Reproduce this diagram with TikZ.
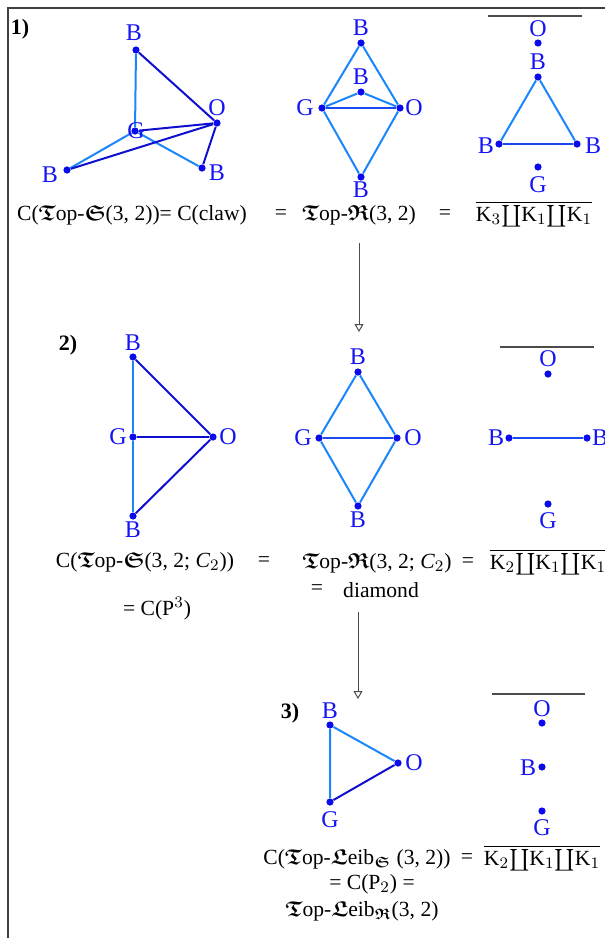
\documentclass[tikz,border=0pt]{standalone}
\usepackage{amsmath,amssymb}
\usepackage{fontspec}
\setmainfont{Liberation Serif}
\usepackage{xcolor}
\usetikzlibrary{arrows.meta}
\definecolor{lblue}{RGB}{25,135,250}
\definecolor{mblue}{RGB}{25,75,240}
\definecolor{dblue}{RGB}{15,15,210}
\definecolor{vblue}{RGB}{10,10,235}
\definecolor{tblue}{RGB}{20,20,245}
\newcommand{\frT}{\ensuremath{\boldsymbol{\mathfrak{T}}}}
\newcommand{\frS}{\ensuremath{\boldsymbol{\mathfrak{S}}}}
\newcommand{\frR}{\ensuremath{\boldsymbol{\mathfrak{R}}}}
\newcommand{\frL}{\ensuremath{\boldsymbol{\mathfrak{L}}}}
\newcommand{\kk}[1]{$\overline{\text{K}_{#1}\mathord{\coprod}\text{K}_1\mathord{\coprod}\text{K}_1}$}
\tikzset{
  vx/.style  ={circle, fill=vblue, inner sep=0pt, minimum size=3.6pt},
  vl/.style  ={font=\fontsize{12}{12}\selectfont, text=tblue, inner sep=0pt},
  le/.style  ={draw=lblue, line width=1pt},
  me/.style  ={draw=mblue, line width=1pt},
  de/.style  ={draw=dblue, line width=1pt},
  captxt/.style ={font=\fontsize{10.8}{12}\selectfont, inner sep=0pt},
  num/.style ={font=\fontsize{11}{12}\selectfont\bfseries, inner sep=0pt},
  ar/.style  ={-{Triangle[open,length=4pt,width=4.5pt]}, draw=black!70, line width=0.5pt},
  bar/.style ={draw=black!70, line width=0.6pt}
}
\begin{document}
\begin{tikzpicture}[x=0.5pt, y=-0.5pt]
\useasboundingbox (0,0) rectangle (605,938);
\draw[bar, draw=black!75, line width=0.7pt] (8,938) -- (8,8) -- (605,8);

\node[num] (n1) at (20,29) {1)};
\node[vx] (a1) at (136,50) {};
\node[vx] (a2) at (217,123) {};
\node[vx] (a3) at (135,131) {};
\node[vx] (a4) at (67,170) {};
\node[vx] (a5) at (202,168) {};
\draw[le] (a1) -- (a3);
\draw[le] (a3) -- (a4);
\draw[le] (a3) -- (a5);
\draw[de] (a1) -- (a2);
\draw[de] (a3) -- (a2);
\draw[de] (a4) -- (a2);
\draw[de] (a5) -- (a2);
\node[vl] (la1) at (134,33) {B};
\node[vl] (la2) at (217,108) {O};
\node[vl] (la3) at (136,131) {G};
\node[vl] (la4) at (50,175) {B};
\node[vl] (la5) at (217,173) {B};

\node[vx] (b1) at (361,43) {};
\node[vx] (b2) at (361,92) {};
\node[vx] (b3) at (322,108) {};
\node[vx] (b4) at (400,108) {};
\node[vx] (b5) at (361,177) {};
\draw[le] (b1) -- (b3);
\draw[le] (b1) -- (b4);
\draw[le] (b3) -- (b2) -- (b4);
\draw[le] (b3) -- (b5) -- (b4);
\draw[me] (b3) -- (b4);
\node[vl] (lb1) at (361,28) {B};
\node[vl] (lb2) at (361,77) {B};
\node[vl] (lb3) at (305,108) {G};
\node[vl] (lb4) at (414,108) {O};
\node[vl] (lb5) at (361,190) {B};

\coordinate (t1a) at (488,16);
\coordinate (t1b) at (582,16);
\draw[bar] (t1a) -- (t1b);
\node[vx] (c1) at (538,43) {};
\node[vx] (c2) at (538,77) {};
\node[vx] (c3) at (499,144) {};
\node[vx] (c4) at (577,144) {};
\node[vx] (c5) at (538,167) {};
\draw[le] (c3) -- (c2) -- (c4);
\draw[me] (c3) -- (c4);
\node[vl] (lc1) at (538,29) {O};
\node[vl] (lc2) at (538,62) {B};
\node[vl] (lc3) at (486,146) {B};
\node[vl] (lc4) at (593,146) {B};
\node[vl] (lc5) at (538,185) {G};

\node[captxt] (s1) at (132,215) {C(\frT op-\frS(3, 2))= C(claw)};
\node[captxt] (e1) at (281,215) {=};
\node[captxt] (r1) at (359,215) {\frT op-\frR(3, 2)};
\node[captxt] (e2) at (445,215) {=};
\node[captxt] (k1) at (534,214) {\kk{3}};

\coordinate (ar1a) at (359,243);
\coordinate (ar1b) at (359,332);
\draw[ar] (ar1a) -- (ar1b);

\node[num] (n2) at (68,345) {2)};
\node[vx] (d1) at (133,357) {};
\node[vx] (d2) at (133,437) {};
\node[vx] (d3) at (213,437) {};
\node[vx] (d4) at (133,516) {};
\draw[le] (d1) -- (d2) -- (d4);
\draw[de] (d1) -- (d3);
\draw[de] (d2) -- (d3);
\draw[de] (d4) -- (d3);
\node[vl] (ld1) at (133,343) {B};
\node[vl] (ld2) at (118,437) {G};
\node[vl] (ld3) at (228,437) {O};
\node[vl] (ld4) at (133,530) {B};

\node[vx] (f1) at (358,372) {};
\node[vx] (f2) at (319,438) {};
\node[vx] (f3) at (397,438) {};
\node[vx] (f4) at (358,506) {};
\draw[le] (f2) -- (f1) -- (f3);
\draw[le] (f2) -- (f4) -- (f3);
\draw[me] (f2) -- (f3);
\node[vl] (lf1) at (358,357) {B};
\node[vl] (lf2) at (303,438) {G};
\node[vl] (lf3) at (413,438) {O};
\node[vl] (lf4) at (358,520) {B};

\coordinate (t2a) at (500,347);
\coordinate (t2b) at (594,347);
\draw[bar] (t2a) -- (t2b);
\node[vx] (g1) at (548,374) {};
\node[vx] (g2) at (509,438) {};
\node[vx] (g3) at (587,438) {};
\node[vx] (g4) at (548,504) {};
\draw[me] (g2) -- (g3);
\node[vl] (lg1) at (548,359) {O};
\node[vl] (lg2) at (496,438) {B};
\node[vl] (lg3) at (600,438) {B};
\node[vl] (lg4) at (548,521) {G};

\node[captxt] (s2) at (145,562) {C(\frT op-\frS(3, 2; \textit{C}$_2$))};
\node[captxt] (e3) at (264,562) {=};
\node[captxt] (s3) at (157,609) {= C(P$^3$)};
\node[captxt] (r2) at (377,563) {\frT op-\frR(3, 2; \textit{C}$_2$)};
\node[captxt] (e4) at (468,563) {=};
\node[captxt] (k2) at (548,562) {\kk{2}};
\node[captxt] (e5) at (317,590) {=};
\node[captxt] (dm) at (381,590) {diamond};

\coordinate (ar2a) at (358,612);
\coordinate (ar2b) at (358,699);
\draw[ar] (ar2a) -- (ar2b);

\node[num] (n3) at (290,713) {3)};
\node[vx] (h1) at (330,725) {};
\node[vx] (h2) at (398,763) {};
\node[vx] (h3) at (330,802) {};
\draw[le] (h3) -- (h1) -- (h2);
\draw[de] (h3) -- (h2);
\node[vl] (lh1) at (330,711) {B};
\node[vl] (lh2) at (414,763) {O};
\node[vl] (lh3) at (330,820) {G};

\coordinate (t3a) at (492,694);
\coordinate (t3b) at (585,694);
\draw[bar] (t3a) -- (t3b);
\node[vx] (i1) at (542,723) {};
\node[vx] (i2) at (542,767) {};
\node[vx] (i3) at (542,811) {};
\node[vl] (li1) at (542,709) {O};
\node[vl] (li2) at (528,768) {B};
\node[vl] (li3) at (542,828) {G};

\node[captxt] (s4) at (357,859) {C(\frT op-\frL eib$_{\frS}$ (3, 2))};
\node[captxt] (e6) at (467,859) {=};
\node[captxt] (k3) at (542,858) {\kk{2}};
\node[captxt] (s5) at (372,884) {= C(P$_2$) =};
\node[captxt] (s6) at (362,911) {\frT op-\frL eib$_{\frR}$(3, 2)};
\end{tikzpicture}
\end{document}
